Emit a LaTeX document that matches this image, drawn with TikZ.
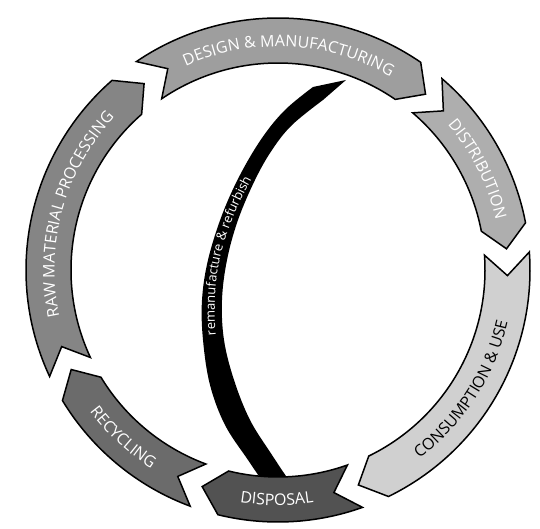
\documentclass[tikz,border=0pt]{standalone}
\usepackage{fontspec}
\setmainfont{Open Sans}
\usetikzlibrary{decorations.text}
\definecolor{rawc}{HTML}{858585}
\definecolor{desc}{HTML}{9E9E9E}
\definecolor{disc}{HTML}{AEAEAE}
\definecolor{conc}{HTML}{D0D0D0}
\definecolor{dspc}{HTML}{525252}
\definecolor{recc}{HTML}{6B6B6B}
\newcommand\ringfont{\fontsize{16}{19}\selectfont}
\newcommand\remfont{\fontsize{13}{15}\selectfont}
% segment: tail angle, head angle, fill colour
\newcommand\ringseg[3]{%
  \draw[segline, fill=#3] (#1:252) arc[start angle=#1, end angle=#2, radius=252]
    -- ({#2-5.5}:229.5) -- (#2:207) arc[start angle=#2, end angle=#1, radius=207]
    -- ({#1-5.5}:229.5) -- cycle;}
% clockwise label (tops outward): centre angle, text, colour
\newcommand\cwlabel[3]{%
  \path[decorate, decoration={text along path, text align=center,
      text color=#3, text={|\ringfont|#2}}]
    ({#1+40}:223.5) arc[start angle={#1+40}, end angle={#1-40}, radius=223.5];}
% counter-clockwise label (tops inward)
\newcommand\ccwlabel[3]{%
  \path[decorate, decoration={text along path, text align=center,
      text color=#3, text={|\ringfont|#2}}]
    ({#1-40}:235.5) arc[start angle={#1-40}, end angle={#1+40}, radius=235.5];}
\begin{document}
\begin{tikzpicture}[x=1pt, y=1pt,
  segline/.style={draw=black, line width=1.5pt, line join=miter}]
\useasboundingbox (0,0) rectangle (540,529);
\fill[white] (0,0) rectangle (540,529);
% remanufacture & refurbish crescent
\fill[black] (346,449) -- plot[smooth, tension=0.6] coordinates {(313,442) (285,419) (262,391) (240,354) (222,314) (208,269) (202,229) (203,189) (210,144) (225,104) (248,69) (265,44)}
  -- plot[smooth, tension=0.6] coordinates {(292,44) (272,74) (250,109) (234,149) (224,189) (222,229) (227,269) (238,309) (255,349) (272,379) (292,404) (323,429)} -- cycle;
\path[decorate, decoration={text along path, text align=center, text color=white,
    text={|\remfont|remanufacture {\&} refurbish}}]
  plot[smooth, tension=0.6] coordinates {(245,99) (228,139) (217,184) (215,229) (220,271) (233,311) (251,349) (268,377) (292,401) (318,423)};
\begin{scope}[shift={(278,259)}]
  \ringseg{205}{131.2}{rawc}
  \ringseg{124.2}{55.5}{desc}
  \ringseg{49.4}{10.8}{disc}
  \ringseg{4.1}{-64}{conc}
  \ringseg{-70.4}{-103.8}{dspc}
  \ringseg{-110.4}{-148.8}{recc}
  \cwlabel{164.5}{RAW MATERIAL PROCESSING}{white}
  \cwlabel{87.1}{DESIGN {\&} MANUFACTURING}{white}
  \cwlabel{26.8}{DISTRIBUTION}{white}
  \ccwlabel{-32.9}{CONSUMPTION {\&} USE}{black}
  \ccwlabel{-90.3}{DISPOSAL}{white}
  \ccwlabel{-132.8}{RECYCLING}{white}
\end{scope}
\end{tikzpicture}
\end{document}
